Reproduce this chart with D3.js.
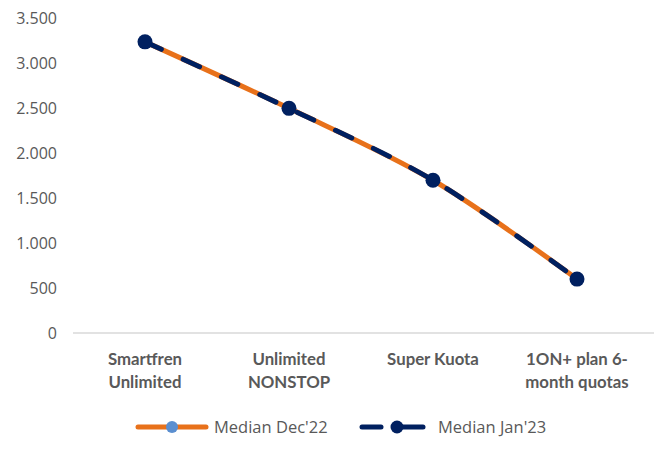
<!DOCTYPE html>
<html><head><meta charset="utf-8">
<script src="https://cdn.jsdelivr.net/npm/d3@7"></script>
<style>body{margin:0;background:#fff}</style>
</head><body>
<svg id="c" width="654" height="450"></svg>
<script>
const categories = [["Smartfren","Unlimited"],["Unlimited","NONSTOP"],["Super Kuota"],["1ON+ plan 6-","month quotas"]];
const categoryKeys = ["Smartfren Unlimited","Unlimited NONSTOP","Super Kuota","1ON+ plan 6-month quotas"];
const medianDec22 = [3240, 2500, 1700, 600];
const medianJan23 = [3240, 2500, 1700, 600];
const yTicks = [0,500,1000,1500,2000,2500,3000,3500];
const seriesNames = ["Median Dec'22","Median Jan'23"];

const svg = d3.select("#c");
const x = d3.scaleBand().domain(categoryKeys).range([73,649]);
const y = d3.scaleLinear().domain([0,3500]).range([333,18.5]);
const fmt = v => d3.format(",")(v).replace(/,/g,".");
const tickFont = "'Open Sans', sans-serif";
const navy = "#002060", orange = "#e8711a";

// y labels
svg.append("g").selectAll("text").data(yTicks).join("text")
  .attr("x",57).attr("y",d=>y(d)).attr("dy","0.36em")
  .attr("text-anchor","end").attr("fill","#595959")
  .style("font-family",tickFont).style("font-size","16px")
  .text(fmt);

// x axis line
svg.append("line").attr("x1",73).attr("x2",654).attr("y1",y(0)).attr("y2",y(0))
  .attr("stroke","#d9d9d9").attr("stroke-width",1.5);

// x labels
const xl = svg.append("g").selectAll("text").data(categoryKeys).join("text")
  .attr("x",d=>x(d)+x.bandwidth()/2).attr("y",365)
  .attr("text-anchor","middle").attr("fill","#595959")
  .style("font-family","Lato, sans-serif").style("font-weight","bold").style("font-size","16.8px");
xl.each(function(d,i){
  const t = d3.select(this);
  categories[i].forEach((s,j)=>t.append("tspan").attr("x",x(d)+x.bandwidth()/2).attr("dy",j?23:0).text(s));
});

const cx = (d,i)=>x(categoryKeys[i])+x.bandwidth()/2;
const line = d3.line().x(cx).y(d=>y(d)).curve(d3.curveCatmullRom.alpha(0.5));

svg.append("path").datum(medianDec22).attr("d",line).attr("fill","none")
  .attr("stroke",orange).attr("stroke-width",5).attr("stroke-linecap","round");
svg.append("path").datum(medianJan23).attr("d",line).attr("fill","none")
  .attr("stroke",navy).attr("stroke-width",5).attr("stroke-dasharray","18,24").attr("stroke-linecap","round");
svg.append("g").selectAll("circle").data(medianJan23).join("circle")
  .attr("cx",cx).attr("cy",d=>y(d)).attr("r",7.5).attr("fill",navy);

// legend
const lg = svg.append("g");
const ly = 427;
lg.append("line").attr("x1",138).attr("x2",206).attr("y1",ly).attr("y2",ly)
  .attr("stroke",orange).attr("stroke-width",5).attr("stroke-linecap","round");
lg.append("circle").attr("cx",172).attr("cy",ly).attr("r",6).attr("fill","#5b8fd0");
lg.append("text").attr("x",214).attr("y",ly).attr("dy","0.36em").attr("fill","#595959")
  .style("font-family",tickFont).style("font-size","16.5px").text(seriesNames[0]);
lg.append("line").attr("x1",362).attr("x2",381).attr("y1",ly).attr("y2",ly)
  .attr("stroke",navy).attr("stroke-width",5).attr("stroke-linecap","round");
lg.append("line").attr("x1",401).attr("x2",423).attr("y1",ly).attr("y2",ly)
  .attr("stroke",navy).attr("stroke-width",5).attr("stroke-linecap","round");
lg.append("circle").attr("cx",397).attr("cy",ly).attr("r",6.5).attr("fill",navy);
lg.append("text").attr("x",438).attr("y",ly).attr("dy","0.36em").attr("fill","#595959")
  .style("font-family",tickFont).style("font-size","16.5px").text(seriesNames[1]);
</script>
</body></html>
